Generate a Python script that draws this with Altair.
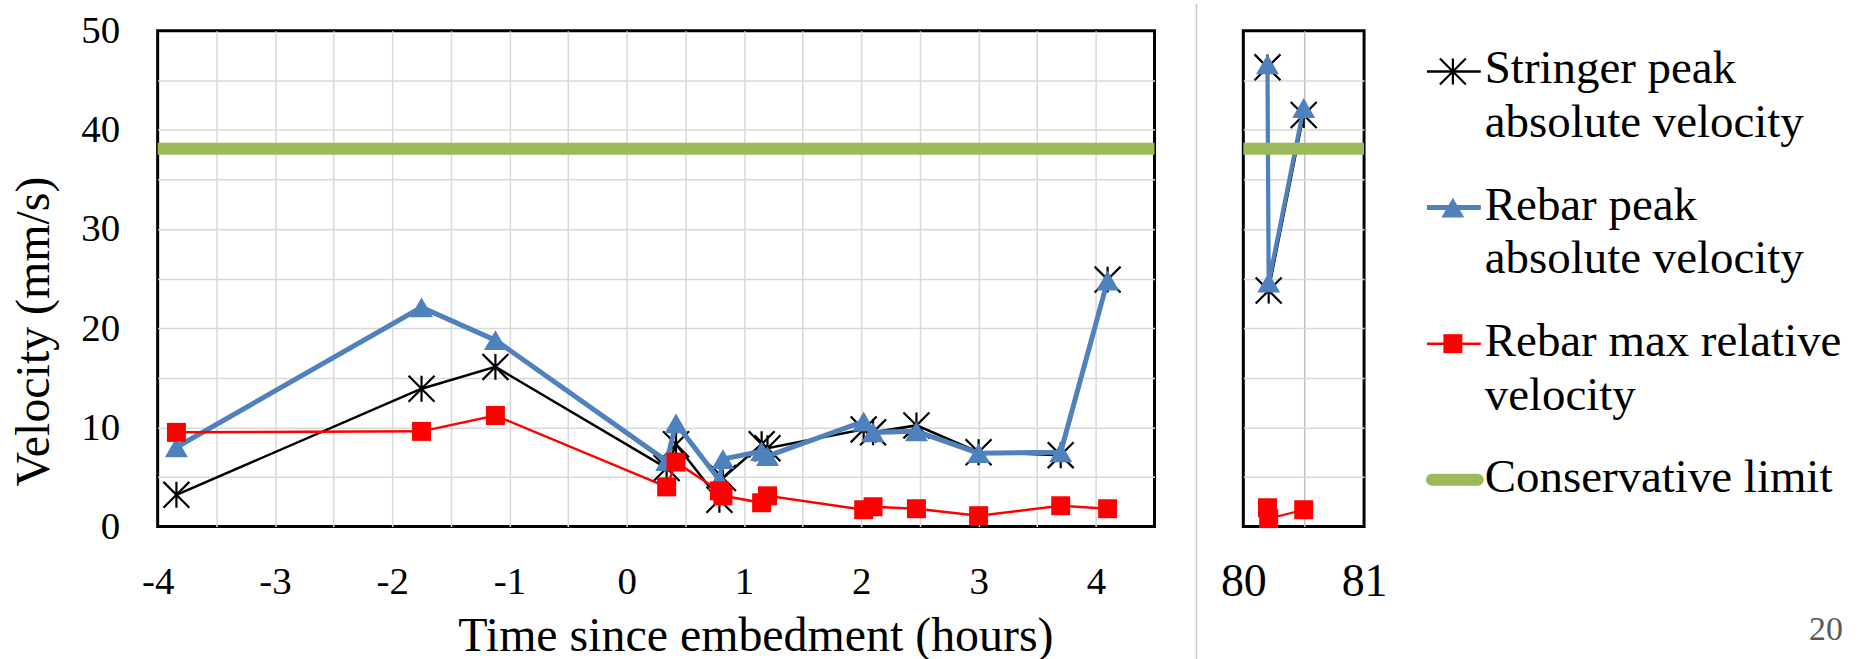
import altair as alt
import pandas as pd

# ---------------- data ----------------
hours = [-3.84, -1.75, -1.12, 0.34, 0.42, 0.79, 0.82, 1.15, 1.20, 2.02, 2.10, 2.47, 3.00, 3.70, 4.10]
stringer_peak = [3.2, 13.9, 16.1, 5.9, 8.3, 2.7, 4.9, 8.3, 7.9, 9.8, 9.5, 10.2, 7.5, 7.2, 24.9]
rebar_peak = [8.0, 22.1, 18.8, 6.6, 10.4, 4.7, 6.8, 7.6, 7.1, 10.6, 9.5, 9.6, 7.4, 7.5, 24.8]
rebar_relative = [9.5, 9.6, 11.2, 4.0, 6.5, 3.6, 3.1, 2.4, 3.1, 1.7, 2.0, 1.8, 1.1, 2.1, 1.8]

late_hours = [80.20, 80.21, 80.50]
late_stringer_peak = [46.3, 23.8, 41.5]
late_rebar_peak = [46.6, 24.6, 42.2]
late_rebar_relative = [1.9, 0.8, 1.7]

conservative_limit = 38.1

series_names = [
    "Stringer peak absolute velocity",
    "Rebar peak absolute velocity",
    "Rebar max relative velocity",
    "Conservative limit",
]
legend_labels = [
    "Stringer peak\nabsolute velocity",
    "Rebar peak\nabsolute velocity",
    "Rebar max relative\nvelocity",
    "Conservative limit",
]

x_ticks_main = [-4, -3.5, -3, -2.5, -2, -1.5, -1, -0.5, 0, 0.5, 1, 1.5, 2, 2.5, 3, 3.5, 4, 4.5]
x_ticks_late = [80, 80.5, 81]
y_ticks = [0, 5, 10, 15, 20, 25, 30, 35, 40, 45, 50]
page_number = "20"

x_title = "Time since embedment (hours)"
y_title = "Velocity (mm/s)"

# ---------------- styles ----------------
FONT = "Liberation Serif"
colors = ["#000000", "#4F81BD", "#FF0000", "#9BBB59"]
line_widths = [2.5, 5, 2.5, 12]
ASTERISK = "M0,-1L0,1M-1,-1L1,1M-1,1L1,-1"
marker_shapes = [ASTERISK, "triangle-up", "square"]
marker_sizes = [676, 529, 361]
marker_filled = [False, True, True]
GRID = "#d9d9d9"


def series_frame(hrs, value_lists):
    rows = []
    for name, vals in zip(series_names[:3], value_lists):
        for h, v in zip(hrs, vals):
            rows.append({"hours": h, "velocity": v, "series": name})
    return pd.DataFrame(rows)


main_df = series_frame(hours, [stringer_peak, rebar_peak, rebar_relative])
late_df = series_frame(late_hours, [late_stringer_peak, late_rebar_peak, late_rebar_relative])
limit_df = pd.DataFrame({"velocity": [conservative_limit]})
legend_df = pd.DataFrame({"series": series_names, "label": legend_labels})
page_df = pd.DataFrame({"text": [page_number]})
helper_df = pd.DataFrame({"a": [0]})


def edge_opacity(lo, hi):
    return {"condition": {"test": f"datum.value <= {lo} || datum.value >= {hi}", "value": 0}, "value": 1}


int_label = "datum.value % 1 == 0 ? '' + datum.value : ''"

x_main = alt.X(
    "hours:Q",
    scale=alt.Scale(domain=[x_ticks_main[0], x_ticks_main[-1]], nice=False, zero=False),
    axis=alt.Axis(
        values=x_ticks_main, labelExpr=int_label, labelFlush=False, labelOverlap=False,
        labelFont=FONT, labelFontSize=39, labelColor="black", labelPadding=36,
        ticks=False, tickSize=0, domain=False,
        grid=True, gridColor=GRID, gridWidth=1.5,
        gridOpacity=edge_opacity(x_ticks_main[0], x_ticks_main[-1]),
        title=x_title, titleFont=FONT, titleFontSize=48, titleFontWeight="normal",
        titleColor="black", titleX=599, titleY=124, titleBaseline="alphabetic", titleAlign="center",
    ),
)
y_main = alt.Y(
    "velocity:Q",
    scale=alt.Scale(domain=[y_ticks[0], y_ticks[-1]], nice=False, zero=False),
    axis=alt.Axis(
        values=y_ticks, labelExpr="datum.value % 10 == 0 ? '' + datum.value : ''",
        labelOverlap=False, labelFont=FONT, labelFontSize=39, labelColor="black", labelPadding=38,
        ticks=False, tickSize=0, domain=False,
        grid=True, gridColor=GRID, gridWidth=1.5,
        gridOpacity=edge_opacity(y_ticks[0], y_ticks[-1]),
        title=y_title, titleFont=FONT, titleFontSize=48, titleFontWeight="normal",
        titleColor="black", titleX=-99, titleY=301, titleBaseline="bottom", titleAlign="center",
    ),
)
x_late = alt.X(
    "hours:Q",
    scale=alt.Scale(domain=[x_ticks_late[0], x_ticks_late[-1]], nice=False, zero=False),
    axis=alt.Axis(
        values=x_ticks_late, labelExpr=int_label, labelFlush=False, labelOverlap=False,
        labelFont=FONT, labelFontSize=46, labelColor="black", labelPadding=33,
        ticks=False, tickSize=0, domain=False,
        grid=True, gridColor="#bfbfbf", gridWidth=1.5,
        gridOpacity=edge_opacity(x_ticks_late[0], x_ticks_late[-1]),
        title=None,
    ),
)
y_late = alt.Y(
    "velocity:Q",
    scale=alt.Scale(domain=[y_ticks[0], y_ticks[-1]], nice=False, zero=False),
    axis=alt.Axis(
        values=y_ticks, labels=False, ticks=False, tickSize=0, domain=False,
        grid=True, gridColor=GRID, gridWidth=1.5,
        gridOpacity=edge_opacity(y_ticks[0], y_ticks[-1]),
        title=None,
    ),
)


def series_layers(df, xenc, yenc, width_scale=1.0):
    layers = []
    for i, name in enumerate(series_names[:3]):
        layers.append(
            alt.Chart(df)
            .transform_filter(alt.datum.series == name)
            .mark_line(
                color=colors[i], strokeWidth=line_widths[i] * width_scale,
                point=alt.OverlayMarkDef(
                    shape=marker_shapes[i], size=marker_sizes[i],
                    filled=marker_filled[i], color=colors[i],
                    strokeWidth=2.2 if not marker_filled[i] else 0,
                    opacity=1,
                ),
            )
            .encode(x=xenc, y=yenc, order="hours:Q")
        )
    return layers


def limit_layer(yenc):
    return alt.Chart(limit_df).mark_rule(color=colors[3], strokeWidth=line_widths[3]).encode(y=yenc)


# ---- main panel ----
left_helper = alt.Chart(helper_df).mark_rule(opacity=0).encode(
    x=alt.value(-156), y=alt.value(0), y2=alt.value(10)
)
main = alt.layer(
    left_helper, *series_layers(main_df, x_main, y_main), limit_layer(y_main)
).properties(width=999, height=497)

# ---- late panel ----
separator = alt.Chart(helper_df).mark_rule(color="#c8c8c8", strokeWidth=1.5).encode(
    x=alt.value(-47), y=alt.value(-27), y2=alt.value(632)
)
late = alt.layer(
    separator, *series_layers(late_df, x_late, y_late, width_scale=0.85), limit_layer(y_late)
).properties(width=121, height=497)

# ---- legend panel ----
y_leg = alt.Y(
    "series:N",
    scale=alt.Scale(type="point", domain=series_names, padding=0.3),
    axis=None,
)
legend_layers = []
for i, name in enumerate(series_names):
    base = alt.Chart(legend_df).transform_filter(alt.datum.series == name)
    if i == 3:
        legend_layers.append(
            base.mark_rule(color=colors[i], strokeWidth=line_widths[i], strokeCap="round").encode(
                x=alt.value(-21), x2=alt.value(25), y=y_leg
            )
        )
    else:
        legend_layers.append(
            base.mark_rule(color=colors[i], strokeWidth=line_widths[i]).encode(
                x=alt.value(-26), x2=alt.value(28), y=y_leg
            )
        )
        legend_layers.append(
            base.mark_point(
                shape=marker_shapes[i], size=marker_sizes[i], filled=marker_filled[i],
                color=colors[i], strokeWidth=2.2 if not marker_filled[i] else 0, opacity=1,
            ).encode(x=alt.value(0), y=y_leg)
        )
legend_layers.append(
    alt.Chart(legend_df).mark_text(
        align="left", baseline="top", dy=-25, font=FONT, fontSize=47,
        lineBreak="\n", lineHeight=54, color="black",
    ).encode(x=alt.value(32), y=y_leg, text="label:N")
)
legend_layers.append(
    alt.Chart(page_df).mark_text(
        align="center", baseline="middle", font=FONT, fontSize=34, color="#595959"
    ).encode(x=alt.value(374), y=alt.value(601), text="text:N")
)
legend = alt.layer(*legend_layers).properties(
    width=405, height=491, view=alt.ViewBackground(stroke="transparent")
)

chart = (
    alt.hconcat(main, late, legend, spacing=89, bounds="flush")
    .properties(padding=0, background="white")
    .configure(font=FONT)
    .configure_view(stroke="black", strokeWidth=3)
)

chart.save("out.html", embed_options={"renderer": "svg", "actions": False})
